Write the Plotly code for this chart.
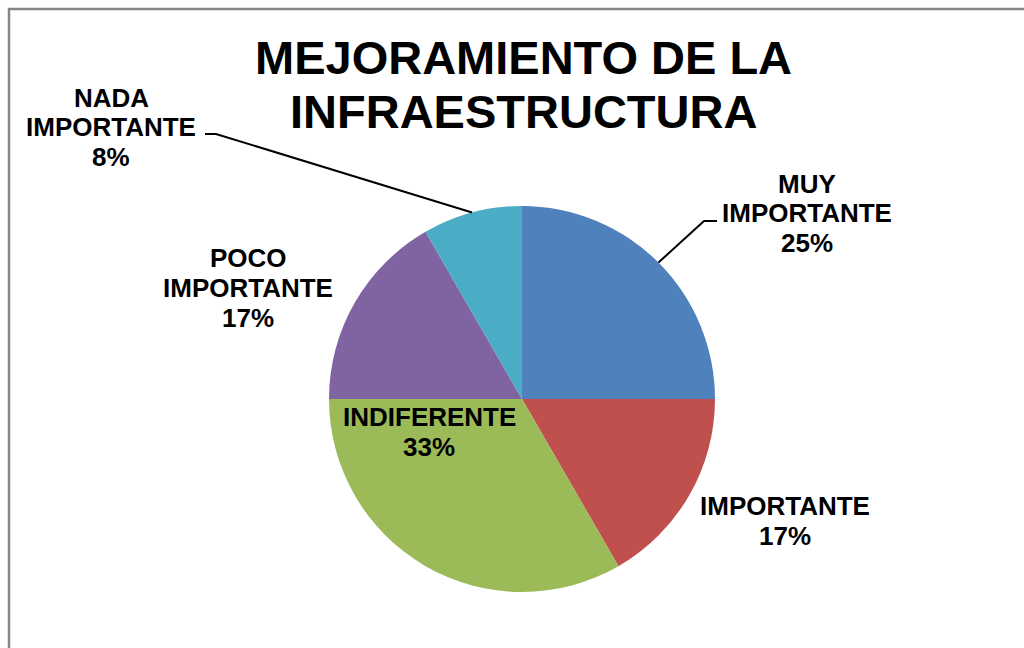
import math
import plotly.graph_objects as go

W, H = 1024, 648

categories = ["MUY IMPORTANTE", "IMPORTANTE", "INDIFERENTE", "POCO IMPORTANTE", "NADA IMPORTANTE"]
label_lines = [["MUY", "IMPORTANTE"], ["IMPORTANTE"], ["INDIFERENTE"], ["POCO", "IMPORTANTE"], ["NADA", "IMPORTANTE"]]
counts = [3, 2, 4, 2, 1]
colors = ["#4F81BD", "#C0504D", "#9BBB59", "#8064A2", "#4BACC6"]
title_lines = ["MEJORAMIENTO DE LA", "INFRAESTRUCTURA"]

# layout (pixels)
CX, CY, R = 522, 399, 193
label_centers = [(807, 213), (785, 521), (429, 432), (248, 288), (111, 127)]
leader_elbows = {0: (704, 221, 717), 4: (216, 134, 205)}  # elbow x, y, end x
FONT = "Liberation Sans, Arial, sans-serif"


def px(x):
    return x / W


def py(y):
    return 1 - y / H


fig = go.Figure(go.Pie(
    labels=categories, values=counts, sort=False, direction="clockwise", rotation=0,
    marker=dict(colors=colors, line=dict(width=0)), textinfo="none", hoverinfo="label+percent",
    domain=dict(x=[px(CX - R), px(CX + R)], y=[py(CY + R), py(CY - R)]),
    showlegend=False,
))

annotations = []
shapes = []

# title
TITLE_PITCH = 53.5
for i, t in enumerate(title_lines):
    annotations.append(dict(x=px(523), y=py(58 + i * TITLE_PITCH), xref="paper", yref="paper",
                            text=f"<b>{t}</b>", showarrow=False, xanchor="center", yanchor="middle",
                            font=dict(family=FONT, size=47, color="#000000")))

total = sum(counts)
LINE_PITCH = 29.5
for i, (cat, c) in enumerate(zip(categories, counts)):
    pct = round(100 * c / total)
    lines = label_lines[i] + [f"{pct}%"]
    lx, ly = label_centers[i]
    n = len(lines)
    for j, t in enumerate(lines):
        yy = ly + (j - (n - 1) / 2) * LINE_PITCH
        annotations.append(dict(x=px(lx), y=py(yy), xref="paper", yref="paper",
                                text=f"<b>{t}</b>", showarrow=False, xanchor="center", yanchor="middle",
                                font=dict(family=FONT, size=26, color="#000000")))

# leader lines from slice mid-angle on the pie edge
cum = 0
for i, c in enumerate(counts):
    mid = (cum + c / 2) / total * 2 * math.pi
    cum += c
    if i in leader_elbows:
        ex, ey, endx = leader_elbows[i]
        ax = CX + R * math.sin(mid)
        ay = CY - R * math.cos(mid)
        path = f"M {px(ax)} {py(ay)} L {px(ex)} {py(ey)} L {px(endx)} {py(ey)}"
        shapes.append(dict(type="path", xref="paper", yref="paper", path=path,
                           line=dict(color="#000000", width=2)))

# chart frame
shapes.append(dict(type="rect", xref="paper", yref="paper", x0=px(9), y0=py(670), x1=px(1040), y1=py(9),
                   line=dict(color="#878787", width=2.5), fillcolor="rgba(0,0,0,0)"))

fig.update_layout(
    width=W, height=H, margin=dict(l=0, r=0, t=0, b=0),
    paper_bgcolor="#FFFFFF", plot_bgcolor="#FFFFFF",
    annotations=annotations, shapes=shapes,
)

fig.write_html("out.html", config={"displayModeBar": False},
               post_script="document.body.style.margin='0';document.body.style.overflow='hidden';")
